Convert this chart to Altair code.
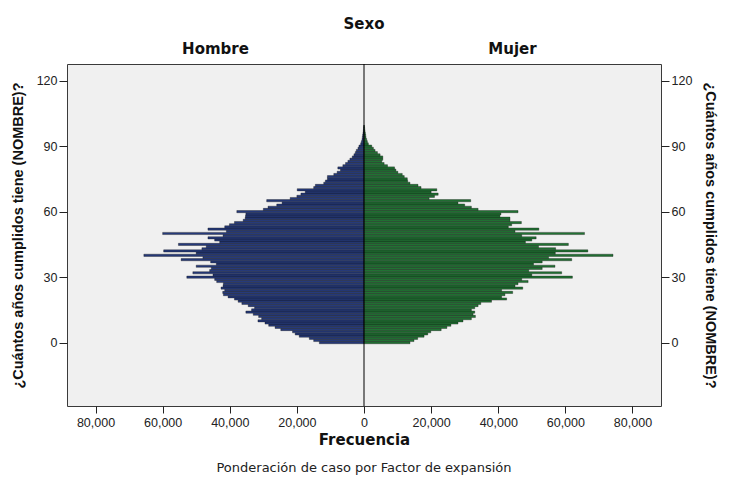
"""Pirámide de población por sexo y edad (estilo SPSS)"""

import pandas as pd
import altair as alt

# Edad en años cumplidos (0-99) y frecuencia ponderada en miles
edades = list(range(0, 100))

hombre_miles = [
    13.3, 15.0, 16.3, 19.3, 20.5, 21.3, 24.8, 26.5, 28.4, 29.5,
    31.6, 30.5, 31.4, 33.0, 35.2, 33.5, 32.6, 34.5, 36.4, 37.5,
    38.6, 40.5, 41.9, 42.1, 41.5, 42.6, 42.0, 41.9, 43.9, 44.5,
    52.8, 45.0, 51.0, 46.0, 45.5, 50.0, 44.0, 45.7, 54.5, 48.0,
    65.6, 50.0, 59.7, 48.3, 47.0, 55.3, 43.0, 44.5, 46.5, 42.0,
    60.0, 41.0, 46.5, 41.5, 40.1, 38.6, 36.0, 35.4, 35.3, 35.2,
    37.9, 30.0, 28.6, 26.0, 24.4, 29.0, 22.0, 20.0, 18.8, 17.5,
    19.9, 15.0, 14.5, 12.0, 11.5, 10.9, 10.9, 9.0, 8.0, 7.0,
    7.8, 6.3, 5.5, 4.8, 4.2, 3.5, 3.0, 2.6, 2.3, 1.8,
    1.5, 1.0, 0.8, 0.6, 0.5, 0.4, 0.3, 0.2, 0.15, 0.1,
]

mujer_miles = [
    13.7, 14.9, 16.0, 17.9, 19.0, 19.9, 23.0, 24.7, 25.9, 28.0,
    29.5, 32.0, 33.2, 32.5, 33.0, 32.0, 33.0, 34.0, 34.8, 38.0,
    42.5, 41.0, 42.0, 44.3, 41.0, 47.3, 45.0, 45.9, 48.9, 47.0,
    62.1, 50.0, 58.9, 49.1, 53.1, 56.9, 50.5, 53.1, 61.9, 55.0,
    74.2, 57.0, 66.7, 57.1, 52.0, 60.9, 48.1, 50.0, 51.3, 47.0,
    65.7, 45.0, 52.1, 43.0, 44.0, 46.9, 43.5, 43.5, 40.5, 40.8,
    45.9, 34.0, 32.0, 30.0, 28.0, 31.8, 19.4, 21.0, 22.1, 20.0,
    21.7, 17.0, 16.1, 13.7, 13.0, 12.9, 12.0, 11.4, 10.1, 9.5,
    9.1, 7.0, 6.0, 5.3, 5.6, 5.6, 4.8, 4.0, 3.3, 2.8,
    2.3, 1.3, 1.0, 0.8, 0.6, 0.5, 0.4, 0.3, 0.2, 0.15,
]

sexos = ["Hombre", "Mujer"]
colores = ["#263A7A", "#217233"]
ticks_x = [-80000, -60000, -40000, -20000, 0, 20000, 40000, 60000, 80000]
ticks_y = [0, 30, 60, 90, 120]
dominio_x = [-88500, 88500]
dominio_y = [-29, 127.6]

titulo_y = "¿Cuántos años cumplidos tiene (NOMBRE)?"
nota = "Ponderación de caso por Factor de expansión"

W, H = 594, 342

rows = []
for edad, h, m in zip(edades, hombre_miles, mujer_miles):
    rows.append({"edad": edad, "sexo": "Hombre", "valor": -h * 1000})
    rows.append({"edad": edad, "sexo": "Mujer", "valor": m * 1000})
df = pd.DataFrame(rows)
df["y_lo"] = df["edad"] - 0.5
df["y_hi"] = df["edad"] + 0.5
df["cero"] = 0

escala_y = alt.Scale(domain=dominio_y, nice=False, zero=False)
escala_x = alt.Scale(domain=dominio_x, nice=False, zero=False)
color = alt.Color("sexo:N", scale=alt.Scale(domain=sexos, range=colores), legend=None)

eje_x = alt.Axis(
    values=ticks_x, labelExpr="format(abs(datum.value), ',')", title="Frecuencia",
    grid=False, domain=False, tickSize=7, tickColor="#222", labelPadding=3,
    labelFont="Liberation Sans", labelFontSize=12.5, labelColor="#222",
    titleFont="DejaVu Sans", titleFontSize=15, titleFontWeight="bold",
    titleColor="#111", titlePadding=4,
)


def eje_y(orient, angle):
    return alt.Axis(
        orient=orient, values=ticks_y, title=titulo_y, titleAngle=angle,
        grid=False, domain=False, tickSize=8, tickColor="#222", labelPadding=2,
        labelFont="Liberation Sans", labelFontSize=12.5, labelColor="#222",
        titleFont="Liberation Sans", titleFontSize=14.5, titleFontWeight="bold",
        titleColor="#111", titlePadding=11,
    )


base = alt.Chart(df)
barras = dict(stroke="#0d0d0d", strokeWidth=0.35)

hombres = base.transform_filter(alt.datum.sexo == "Hombre").mark_bar(**barras).encode(
    x=alt.X("valor:Q", scale=escala_x, axis=eje_x),
    x2="cero:Q",
    y=alt.Y("y_lo:Q", scale=escala_y, axis=eje_y("left", -90)),
    y2="y_hi:Q",
    color=color,
)

mujeres = base.transform_filter(alt.datum.sexo == "Mujer").mark_bar(**barras).encode(
    x=alt.X("valor:Q", scale=escala_x, axis=eje_x),
    x2="cero:Q",
    y=alt.Y("y_lo:Q", scale=escala_y, axis=eje_y("right", 90)),
    y2="y_hi:Q",
    color=color,
)

centro = alt.Chart(pd.DataFrame({"cero": [0]})).mark_rule(color="black", strokeWidth=1).encode(
    x=alt.X("cero:Q", scale=escala_x, axis=eje_x),
)

encabezados = alt.Chart(pd.DataFrame({"sexo": sexos, "pos": [-44250, 44250]})).mark_text(
    font="DejaVu Sans", fontSize=15, fontWeight="bold", color="#111", baseline="bottom"
).encode(
    x=alt.X("pos:Q", scale=escala_x, axis=eje_x),
    y=alt.value(-7),
    text="sexo:N",
)

pie = alt.Chart(pd.DataFrame({"nota": [nota]})).mark_text(
    font="DejaVu Sans", fontSize=13, color="#222", baseline="middle"
).encode(
    x=alt.value(W / 2),
    y=alt.value(H + 62),
    text="nota:N",
)

chart = (
    alt.layer(hombres, mujeres, centro, encabezados, pie)
    .resolve_scale(y="shared", x="shared")
    .resolve_axis(y="independent")
    .properties(
        width=W, height=H,
        autosize=alt.AutoSizeParams(type="none"),
        padding={"left": 59, "top": 56, "right": 68, "bottom": 73},
        title=alt.Title("Sexo", font="DejaVu Sans", fontSize=15, fontWeight="bold",
                        color="#111", anchor="middle", offset=10),
        background="white",
    )
    .configure_view(fill="#F0F0F0", stroke="#3a3a3a", strokeWidth=1)
)

chart.save("out.html", embed_options={"renderer": "svg", "actions": False})
